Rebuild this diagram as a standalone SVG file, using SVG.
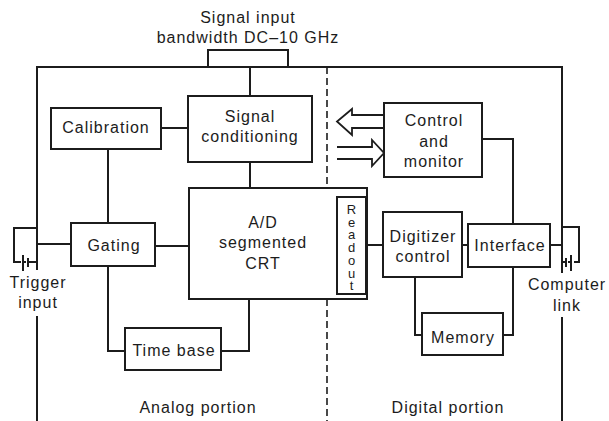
<svg xmlns="http://www.w3.org/2000/svg" width="609" height="421" viewBox="0 0 609 421">
  <style>
    .box { fill: #fff; stroke: #1c1c1c; stroke-width: 2; }
    .ln { fill: none; stroke: #1c1c1c; stroke-width: 2; }
    .dash { fill: none; stroke: #1c1c1c; stroke-width: 1.6; stroke-dasharray: 7 4; }
    .arrow { fill: #fff; stroke: #1c1c1c; stroke-width: 1.8; stroke-linejoin: miter; }
    text { font-family: "Liberation Sans", Arial, sans-serif; font-size: 16px; letter-spacing: 1px; fill: #1c1c1c; text-anchor: middle; }
    .ro { font-size: 13px; letter-spacing: -2.3px; writing-mode: vertical-rl; text-orientation: upright; }
  </style>
  <rect width="609" height="421" fill="#fff"/>

  <!-- enclosure, signal input, divider and external ports -->
  <g id="frame">
    <path class="ln" d="M37,421 V316 M37,270 V67 H562 V273 M562,317 V421"/>
    <path class="ln" d="M208,67 V50 H288 V67"/>
    <path class="dash" d="M327,67 V188 M327,299 V421"/>
    <!-- trigger input connector -->
    <path class="ln" d="M37,228 H14 V262 H21 M23,255 V271 M23,262 H26 M28,258 V267 M28,262 H37"/>
    <!-- computer link connector -->
    <path class="ln" d="M562,227 H579 V262 H574 M571,255 V271 M571,262 H568 M566,258 V267 M566,262 H562"/>
  </g>

  <g id="connectors">
    <path class="ln" d="M250,67 V96"/>
    <path class="ln" d="M161,128 H188"/>
    <path class="ln" d="M108,149 V223"/>
    <path class="ln" d="M37,244 H71"/>
    <path class="ln" d="M155,246 H189"/>
    <path class="ln" d="M250,162 V188"/>
    <path class="ln" d="M108,266 V351 H125"/>
    <path class="ln" d="M249,299 V351 H221"/>
    <path class="ln" d="M367,245 H383"/>
    <path class="ln" d="M462,245 H468"/>
    <path class="ln" d="M550,245 H562"/>
    <path class="ln" d="M482,139 H513 V224"/>
    <path class="ln" d="M415,277 V335 H422"/>
    <path class="ln" d="M513,267 V335 H503"/>
    <!-- hollow bus arrows to and from control -->
    <path class="arrow" d="M384,115 H352 V109 L337,121.5 L352,135 V128 H384"/>
    <path class="arrow" d="M337,147 H372 V140 L384,153 L372,166 V159 H337"/>
  </g>

  <g id="calibration">
    <rect class="box" x="51" y="108" width="110" height="41"/>
    <text x="106" y="133">Calibration</text>
  </g>

  <g id="signal-conditioning">
    <rect class="box" x="188" y="96" width="124" height="66"/>
    <text x="250" y="122">Signal</text>
    <text x="250" y="142">conditioning</text>
  </g>

  <g id="control-monitor">
    <rect class="box" x="384" y="103" width="98" height="74"/>
    <text x="434" y="126">Control</text>
    <text x="434" y="147">and</text>
    <text x="434" y="167">monitor</text>
  </g>

  <g id="gating">
    <rect class="box" x="71" y="223" width="84" height="43"/>
    <text x="114" y="251">Gating</text>
  </g>

  <g id="ad-crt">
    <rect class="box" x="189" y="188" width="178" height="111"/>
    <text x="263" y="228">A/D</text>
    <text x="263" y="248">segmented</text>
    <text x="263" y="269">CRT</text>
  </g>

  <g id="readout">
    <rect class="box" x="337" y="197" width="29" height="97"/>
    <!-- upright letters running down the strip -->
    <text class="ro" x="351.5" y="246.5">Readout</text>
  </g>

  <g id="digitizer-control">
    <rect class="box" x="383" y="212" width="79" height="65"/>
    <text x="423" y="242">Digitizer</text>
    <text x="423" y="262">control</text>
  </g>

  <g id="interface">
    <rect class="box" x="468" y="224" width="82" height="43"/>
    <text x="510" y="251">Interface</text>
  </g>

  <g id="time-base">
    <rect class="box" x="125" y="328" width="96" height="42"/>
    <text x="174" y="356">Time base</text>
  </g>

  <g id="memory">
    <rect class="box" x="422" y="313" width="81" height="42"/>
    <text x="463" y="343">Memory</text>
  </g>

  <g id="labels">
    <text x="248" y="23">Signal input</text>
    <text x="248" y="43">bandwidth DC–10 GHz</text>
    <text x="38" y="288">Trigger</text>
    <text x="38" y="308">input</text>
    <text x="567" y="290">Computer</text>
    <text x="567" y="311">link</text>
    <text x="198" y="413">Analog portion</text>
    <text x="448" y="413">Digital portion</text>
  </g>
</svg>
